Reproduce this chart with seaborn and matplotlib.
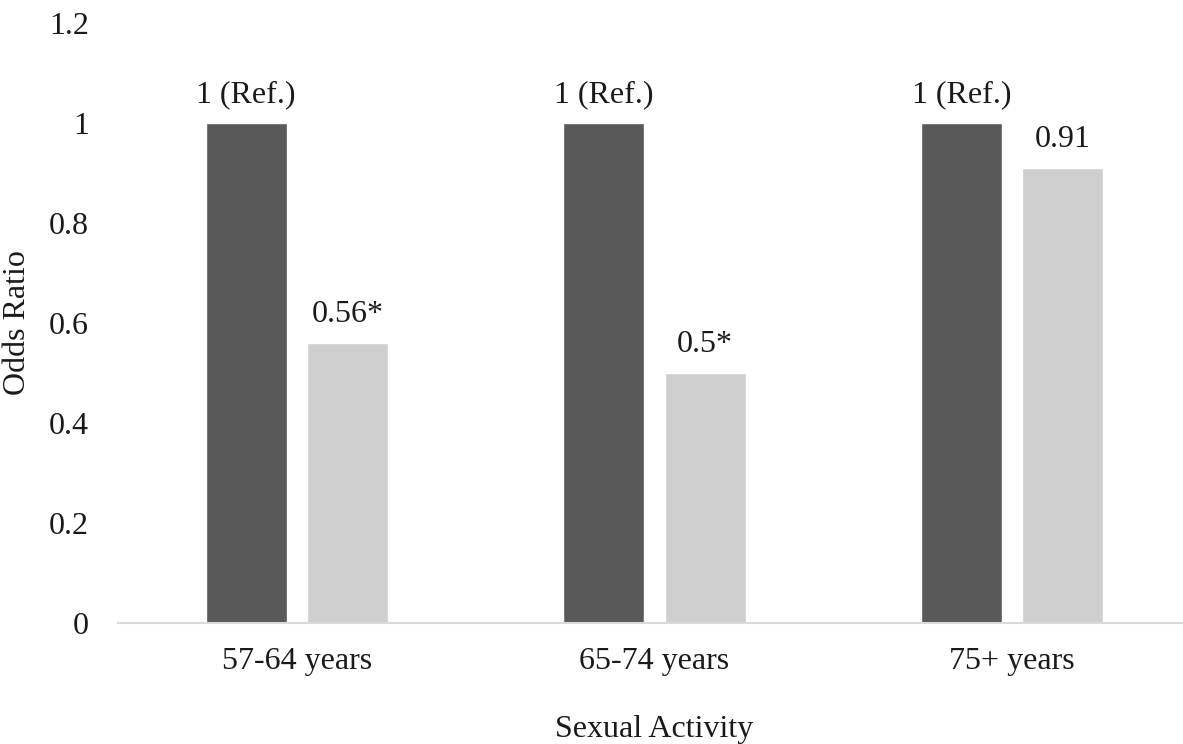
import pandas as pd
import seaborn as sns
import matplotlib.pyplot as plt

# Dados
age_groups = ["57-64 years", "65-74 years", "75+ years"]
series_names = ["Reference", "Comparison"]
ref_values = [1.0, 1.0, 1.0]
cmp_values = [0.56, 0.5, 0.91]
ref_labels = ["1 (Ref.)", "1 (Ref.)", "1 (Ref.)"]
cmp_labels = ["0.56*", "0.5*", "0.91"]
y_ticks = [0, 0.2, 0.4, 0.6, 0.8, 1, 1.2]
y_tick_labels = ["0", "0.2", "0.4", "0.6", "0.8", "1", "1.2"]

df = pd.DataFrame({
    "group": age_groups * 2,
    "series": [series_names[0]] * 3 + [series_names[1]] * 3,
    "value": ref_values + cmp_values,
})

sns.set_style("white")
plt.rcParams["font.family"] = ["Liberation Serif", "DejaVu Serif"]

fig = plt.figure(figsize=(11.83, 7.44), dpi=100)
ax = fig.add_axes([118 / 1183, 1 - 623 / 744, 1073 / 1183, 600 / 744])

sns.barplot(data=df, x="group", y="value", hue="series", order=age_groups,
            hue_order=series_names, palette=["#595959", "#d0cfd0"],
            width=0.567, gap=0.2, legend=False, ax=ax, saturation=1)

# Rótulos das barras
ax.bar_label(ax.containers[0], labels=ref_labels, padding=10, fontsize=23, color="#1a1a1a")
ax.bar_label(ax.containers[1], labels=cmp_labels, padding=10, fontsize=23, color="#1a1a1a")

ax.set_xlim(-0.5, 2.5)
ax.set_ylim(0, 1.2)
ax.set_yticks(y_ticks)
ax.set_yticklabels(y_tick_labels)
ax.tick_params(axis="both", length=0, labelsize=23, labelcolor="#1a1a1a")
ax.tick_params(axis="y", pad=21)
ax.tick_params(axis="x", pad=17)

for s in ["top", "right", "left"]:
    ax.spines[s].set_visible(False)
ax.spines["bottom"].set_color("#d9d9d9")
ax.spines["bottom"].set_linewidth(1.5)

ax.set_xlabel("Sexual Activity", fontsize=23, color="#1a1a1a", labelpad=28)
ax.set_ylabel("Odds Ratio", fontsize=23, color="#1a1a1a", labelpad=12)

fig.savefig("out.png", dpi=100)
